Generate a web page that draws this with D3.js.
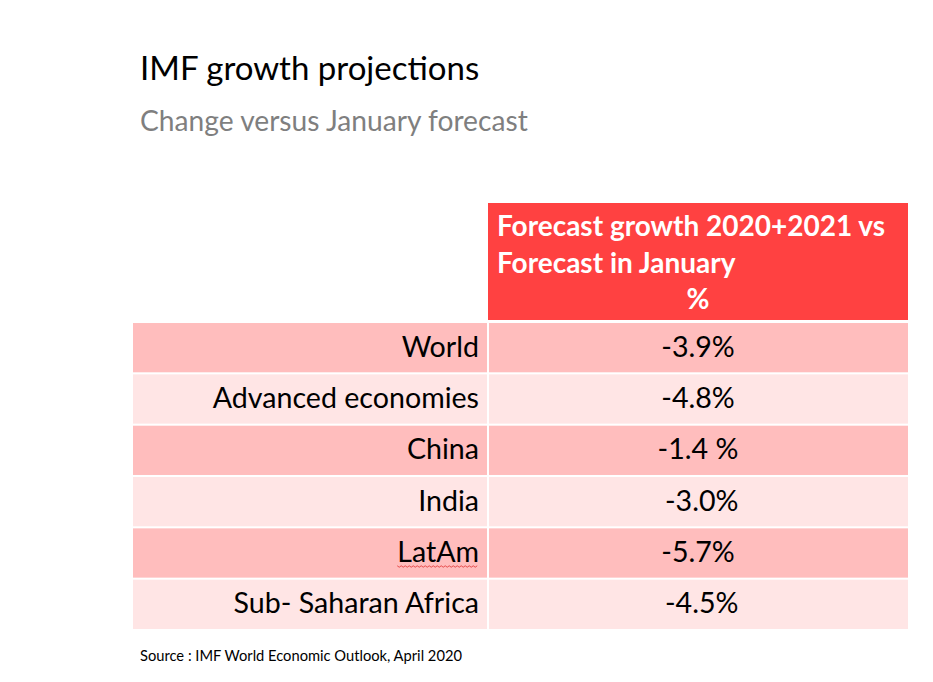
<!DOCTYPE html>
<html><head><meta charset="utf-8">
<script src="https://cdn.jsdelivr.net/npm/d3@7"></script>
<style>
html,body{margin:0;padding:0;background:#fff;}
svg{display:block;font-family:Lato,"Open Sans",sans-serif;}
</style></head>
<body>
<svg id="chart" width="933" height="682"></svg>
<script>
const regions = ["World","Advanced economies","China","India","LatAm","Sub- Saharan Africa"];
const changes = ["-3.9%","-4.8%","-1.4 %"," -3.0%","-5.7%"," -4.5%"];
const headerLines = ["Forecast growth 2020+2021 vs","Forecast in January"];
const headerUnit = "%";
const title = "IMF growth projections";
const subtitle = "Change versus January forecast";
const source = "Source : IMF World Economic Outlook, April 2020";

const svg = d3.select("#chart");
const tableLeft = 133, divider = 488, tableRight = 908;
const headerTop = 203, headerBottom = 320;

const y = d3.scaleBand().domain(regions).range([322, 630]).paddingInner(0.04).paddingOuter(0.02);

svg.append("text").attr("x",140).attr("y",80).attr("font-size",33).attr("fill","#000").text(title);
svg.append("text").attr("x",140).attr("y",131).attr("font-size",28.2).attr("fill","#7f7f7f").text(subtitle);

// header
svg.append("rect").attr("x",divider).attr("y",headerTop).attr("width",tableRight-divider).attr("height",headerBottom-headerTop).attr("fill","#ff4141");
headerLines.forEach((t,i)=>{
  svg.append("text").attr("x",497).attr("y",236+i*37).attr("font-size",28).attr("font-weight","bold").attr("fill","#fff").text(t);
});
svg.append("text").attr("x",(divider+tableRight)/2).attr("y",309).attr("text-anchor","middle").attr("font-size",28).attr("font-weight","bold").attr("fill","#fff").text(headerUnit);

const rows = svg.selectAll("g.row").data(regions).join("g").attr("class","row");
rows.append("rect").attr("x",tableLeft).attr("y",d=>y(d)).attr("width",divider-1-tableLeft).attr("height",y.bandwidth())
  .attr("fill",(d,i)=>i%2===0?"#ffbdbd":"#ffe5e5");
rows.append("rect").attr("x",divider+1).attr("y",d=>y(d)).attr("width",tableRight-divider-1).attr("height",y.bandwidth())
  .attr("fill",(d,i)=>i%2===0?"#ffbdbd":"#ffe5e5");
const labels = rows.append("text").attr("x",479).attr("y",d=>y(d)+y.bandwidth()/2+9).attr("text-anchor","end").attr("font-size",28.6).attr("fill","#000").text(d=>d);
rows.append("text").attr("x",(divider+tableRight)/2).attr("y",d=>y(d)+y.bandwidth()/2+9).attr("text-anchor","middle").attr("font-size",28.6).attr("fill","#000")
  .attr("xml:space","preserve").style("white-space","pre").text((d,i)=>changes[i]);

// spell-check squiggle under LatAm
const laNode = labels.filter(d=>d==="LatAm").node();
const bb = laNode.getBBox();
const la = y("LatAm")+y.bandwidth()/2+13;
const n = Math.floor(bb.width/2);
const sq = d3.range(0,n+1).map(i=>[bb.x+i*2, la+(i%2?1.2:-0.2)]);
svg.append("path").attr("d",d3.line()(sq)).attr("fill","none").attr("stroke","#e03030").attr("stroke-width",0.8);

svg.append("text").attr("x",140).attr("y",661).attr("font-size",14.7).attr("fill","#000").text(source);
</script>
</body></html>
